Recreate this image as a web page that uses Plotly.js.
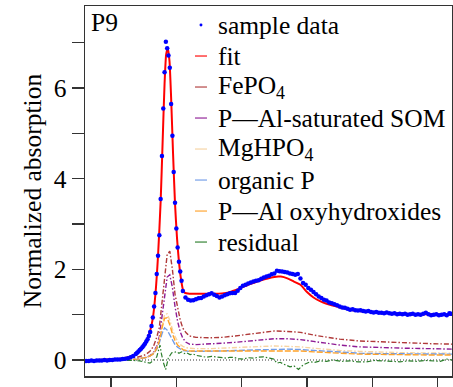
<!DOCTYPE html>
<html>
<head>
<meta charset="utf-8">
<script src="https://cdn.plot.ly/plotly-3.0.1.min.js"></script>
<style>html,body{margin:0;padding:0;background:#fff;}#chart{width:453px;height:387px;}</style>
</head>
<body>
<div id="chart"></div>
<script>
// Sample data (energy in eV, normalized absorption)
const sampleE = [
2141.2,2141.6,2142.0,2142.4,2142.8,2143.2,2143.6,2144.0,2144.4,2144.8,2145.2,2145.6,2146.0,2146.4,2146.8,2147.2,2147.6,2148.0,2148.4,2148.8,
2149.0,2149.2,2149.4,2149.6,2149.8,2150.0,2150.2,2150.4,2150.6,2150.8,2151.0,2151.2,2151.4,2151.6,2151.8,2152.0,2152.2,2152.4,2152.6,2152.8,
2153.0,2153.2,2153.4,2153.6,2153.8,2154.0,2154.2,2154.4,2154.6,2154.8,2155.0,2155.2,2155.4,2155.6,2155.8,2156.0,
2156.4,2156.8,2157.2,2157.6,2158.0,2158.4,2158.8,2159.2,2159.6,2160.0,2160.4,2160.8,2161.2,2161.6,2162.0,2162.4,2162.8,2163.2,2163.6,2164.0,
2164.4,2164.8,2165.2,2165.6,2166.0,2166.4,2166.8,2167.2,2167.6,2168.0,2168.4,2168.8,2169.2,2169.6,2170.0,2170.4,2170.8,2171.2,2171.6,2172.0,
2172.4,2172.8,2173.2,2173.6,2174.0,2174.4,2174.8,2175.2,2175.6,2176.0,2176.4,2176.8,2177.2,2177.6,2178.0,2178.4,2178.8,2179.2,2179.6,2180.0,
2180.4,2180.8,2181.2,2181.6,2182.0,2182.4,2182.8,2183.2,2183.6,2184.0,2184.4,2184.8,2185.2,2185.6,2186.0,2186.4,2186.8,2187.2,2187.6,2188.0,
2188.4,2188.8,2189.2,2189.6,2190.0,2190.4,2190.8,2191.2,2191.6,2192.0,2192.4,2192.8,2193.2,2193.6,2194.0,2194.4,2194.8,2195.2,2195.6,2196.0,
2196.4,2196.8,2197.0];
const sampleY = [
-0.02,-0.02,-0.01,-0.02,-0.01,-0.01,-0.01,0.00,-0.01,0.00,0.00,0.01,0.01,0.01,0.02,0.03,0.04,0.06,0.09,0.13,
0.16,0.19,0.22,0.25,0.28,0.32,0.36,0.41,0.46,0.53,0.62,0.75,0.94,1.18,1.48,1.90,2.30,2.75,3.55,4.50,
5.55,6.35,7.02,6.88,6.72,6.45,5.65,4.95,4.15,3.47,2.90,2.48,2.17,1.95,1.75,1.52,
1.38,1.33,1.31,1.32,1.34,1.36,1.37,1.40,1.43,1.45,1.47,1.44,1.41,1.38,1.40,1.43,1.45,1.47,1.48,1.48,
1.53,1.59,1.64,1.66,1.69,1.71,1.73,1.75,1.76,1.79,1.82,1.84,1.86,1.89,1.91,1.97,1.96,1.95,1.94,1.93,
1.91,1.90,1.88,1.90,1.80,1.70,1.66,1.59,1.55,1.50,1.45,1.40,1.37,1.33,1.31,1.27,1.25,1.23,1.21,1.18,
1.16,1.15,1.13,1.11,1.12,1.10,1.09,1.10,1.08,1.07,1.08,1.06,1.05,1.06,1.04,1.04,1.03,1.05,1.03,1.02,
1.03,1.01,1.02,1.01,1.02,1.00,1.01,1.02,1.00,1.01,1.00,1.02,1.04,1.01,0.99,1.00,1.01,0.99,1.00,1.01,
0.99,1.03,1.02];

// Fit
const fitE = [2141.0,2143,2145,2146,2147,2148,2148.5,2149,2149.5,2150,2150.5,2151,2151.4,2151.8,2152.2,2152.6,2152.9,2153.2,2153.45,2153.7,
2153.95,2154.2,2154.5,2154.8,2155.1,2155.4,2155.7,2156.0,2156.3,2157,2158,2159,2160,2161,2162,2163,2164,2165,2166,2167,
2168,2169,2170,2170.6,2171,2172,2173,2174,2175,2176,2177,2178,2179,2180,2181,2182,2184,2186,2188,2190,2192,2194,2196,2197.2];
const fitY = [0.00,0.00,0.01,0.02,0.04,0.07,0.10,0.15,0.22,0.32,0.45,0.65,0.92,1.45,2.30,3.50,4.80,6.10,6.75,6.88,
6.60,5.80,4.55,3.45,2.70,2.17,1.80,1.56,1.48,1.46,1.46,1.46,1.46,1.46,1.47,1.49,1.54,1.60,1.66,1.71,
1.76,1.80,1.83,1.84,1.84,1.80,1.73,1.66,1.50,1.38,1.30,1.24,1.20,1.16,1.13,1.10,1.07,1.05,1.03,1.02,1.01,1.01,1.00,1.00];

// Component energy grid
const compE = [2141,2146,2148,2149,2150,2150.5,2151,2151.5,2152,2152.4,2152.8,2153.2,2153.6,2154.0,2154.4,2154.8,2155.2,2155.6,2156.0,2156.5,
2157,2158,2160,2162,2164,2166,2168,2170,2172,2174,2176,2178,2180,2183,2186,2190,2194,2197.2];
const fePO4 = [0,0.01,0.03,0.06,0.10,0.14,0.20,0.30,0.50,0.72,1.25,1.90,2.33,2.40,2.00,1.45,1.12,0.88,0.70,0.60,
0.53,0.50,0.49,0.50,0.53,0.57,0.61,0.64,0.63,0.61,0.55,0.50,0.46,0.42,0.40,0.375,0.36,0.35];
const pAlSOM = [0,0.00,0.01,0.02,0.04,0.06,0.10,0.17,0.30,0.52,0.95,1.45,1.83,1.88,1.60,1.18,0.85,0.62,0.48,0.39,
0.35,0.34,0.35,0.37,0.39,0.42,0.45,0.47,0.47,0.45,0.41,0.37,0.33,0.29,0.27,0.26,0.25,0.24];
const mgHPO4 = [0,0.00,0.01,0.02,0.04,0.06,0.09,0.15,0.27,0.45,0.75,1.00,1.02,0.88,0.68,0.52,0.41,0.34,0.30,0.27,
0.26,0.25,0.25,0.26,0.27,0.28,0.30,0.31,0.30,0.29,0.26,0.23,0.21,0.19,0.17,0.16,0.155,0.15];
const organicP = [0,0.00,0.01,0.02,0.04,0.06,0.09,0.14,0.24,0.38,0.58,0.71,0.66,0.55,0.43,0.34,0.28,0.24,0.21,0.20,
0.19,0.19,0.19,0.20,0.21,0.22,0.23,0.24,0.24,0.23,0.21,0.19,0.17,0.15,0.14,0.135,0.13,0.13];
const pAlOxy = [0,0.00,0.01,0.02,0.04,0.06,0.09,0.14,0.25,0.42,0.70,0.92,0.93,0.78,0.58,0.43,0.33,0.27,0.23,0.21,
0.20,0.20,0.20,0.20,0.21,0.21,0.21,0.21,0.21,0.20,0.18,0.16,0.15,0.13,0.12,0.115,0.11,0.11];

// Residual
const residE = [2141,2142.5,2144,2144.85,2146,2147.45,2148.5,2149.4,2149.95,2150.5,2150.97,2151.4,2152.0,2152.35,2152.5,2152.7,2153.0,2153.37,2153.57,2153.77,
2154.3,2154.7,2155.05,2155.4,2155.8,2156.2,2156.6,2157.1,2157.6,2158.1,2158.6,2159.1,2159.65,2160.4,2161.2,2162.0,2162.7,2163.2,2163.7,2164.5,
2165.25,2166.0,2166.8,2167.5,2168.3,2169.3,2169.9,2170.4,2170.9,2171.4,2171.9,2172.4,2173.0,2173.7,2174.4,2174.9,2175.45,2176.2,2177.0,2178.0,
2179.0,2180.2,2181.6,2182.8,2184.1,2185.4,2186.7,2188.0,2189.2,2190.5,2191.8,2193.0,2194.3,2195.4,2196.4,2197.2];
const residY = [0.00,0.00,-0.01,0.00,0.00,0.00,-0.01,-0.02,-0.04,-0.06,-0.07,-0.02,0.07,0.25,0.33,0.15,-0.05,-0.21,-0.10,0.04,
0.16,0.18,0.18,0.15,0.18,0.14,0.16,0.12,0.13,0.10,0.09,0.07,0.06,0.08,0.07,0.05,0.04,0.06,0.06,0.03,
0.02,0.05,0.04,0.06,0.07,0.04,0.02,-0.07,-0.05,-0.09,-0.12,-0.15,-0.13,-0.21,-0.11,-0.07,-0.04,-0.05,-0.02,-0.03,
0.00,-0.03,-0.02,-0.04,-0.04,-0.01,-0.02,-0.04,-0.04,-0.02,-0.03,-0.01,-0.02,-0.03,0.02,0.00];

const seriesNames = ['sample data', 'fit', 'FePO<sub>4</sub>', 'P—Al-saturated SOM', 'MgHPO<sub>4</sub>',
                     'organic P', 'P—Al oxyhydroxides', 'residual'];
const seriesColors = ['#0000FF', '#FF0000', '#B03A3A', '#8E1C95', '#F7D3A1', '#6F9BE8', '#FFA229', '#2A7D2A'];

const F = 'Liberation Serif, Times New Roman, serif';
const FS = 25.5;
const dd = '5px,2px,1.5px,2px';

const traces = [
  {x: compE, y: fePO4, name: seriesNames[2], mode: 'lines', line: {color: seriesColors[2], width: 1.4, dash: dd}},
  {x: compE, y: pAlSOM, name: seriesNames[3], mode: 'lines', line: {color: seriesColors[3], width: 1.4, dash: dd}},
  {x: compE, y: mgHPO4, name: seriesNames[4], mode: 'lines', line: {color: seriesColors[4], width: 1.4, dash: dd}},
  {x: compE, y: organicP, name: seriesNames[5], mode: 'lines', line: {color: seriesColors[5], width: 1.4, dash: '6px,2px'}},
  {x: compE, y: pAlOxy, name: seriesNames[6], mode: 'lines', line: {color: seriesColors[6], width: 1.4, dash: '6px,2px'}},
  {x: residE, y: residY, name: seriesNames[7], mode: 'lines', line: {color: seriesColors[7], width: 1.2, dash: dd}},
  {x: fitE, y: fitY, name: seriesNames[1], mode: 'lines', line: {color: seriesColors[1], width: 2, shape: 'spline', smoothing: 0.6}},
  {x: sampleE, y: sampleY, name: seriesNames[0], mode: 'markers', marker: {color: seriesColors[0], size: 4.5}}
];

// Legend drawn as annotations + short line handles (matplotlib-style compact legend)
const legTop = 0.9486, legStep = 0.0838, legTextX = 0.3597, legH0 = 0.2997, legH1 = 0.3324;
const annotations = [{text: 'P9', xref: 'paper', yref: 'paper', x: 0.012, y: 1.0, xanchor: 'left', yanchor: 'top',
                      showarrow: false, font: {family: F, size: FS, color: '#000'}}];
const shapes = [{type: 'line', xref: 'paper', x0: 0, x1: 1, yref: 'y', y0: 0, y1: 0,
                 line: {color: '#000', width: 0.8, dash: '1px,2px'}, layer: 'below'}];
seriesNames.forEach((nm, i) => {
  const yc = legTop - i * legStep;
  annotations.push({text: nm, xref: 'paper', yref: 'paper', x: legTextX, y: yc, xanchor: 'left', yanchor: 'middle',
                    showarrow: false, font: {family: F, size: FS, color: '#000'}, borderpad: 0});
  if (i === 0) {
    shapes.push({type: 'circle', xref: 'paper', yref: 'paper', x0: (legH0 + legH1) / 2 - 0.004, x1: (legH0 + legH1) / 2 + 0.004,
                 y0: yc - 0.004, y1: yc + 0.004, fillcolor: seriesColors[i], line: {width: 0}});
  } else {
    shapes.push({type: 'line', xref: 'paper', yref: 'paper', x0: legH0, x1: legH1, y0: yc, y1: yc,
                 line: {color: seriesColors[i], width: 1.5}, opacity: 0.75});
  }
});

const layout = {
  width: 453, height: 387,
  margin: {l: 85, r: 1, t: 6, b: 11},
  paper_bgcolor: '#fff', plot_bgcolor: '#fff',
  font: {family: F, size: FS, color: '#000'},
  showlegend: false,
  xaxis: {range: [2141.02, 2197.2], showgrid: false, zeroline: false, showline: true, mirror: true,
          linecolor: '#333', linewidth: 1.5, ticks: 'outside', ticklen: 16, tickwidth: 1.5, tickcolor: '#333',
          tick0: 2145, dtick: 10, showticklabels: false},
  yaxis: {range: [-0.353, 7.81], showgrid: false, zeroline: false, showline: true, mirror: true,
          linecolor: '#333', linewidth: 1.5, ticks: 'outside', ticklen: 12, tickwidth: 1.5, tickcolor: '#333',
          tick0: 0, dtick: 2, tickfont: {family: F, size: FS},
          minor: {dtick: 1, ticks: 'outside', ticklen: 12, tickwidth: 1.5, tickcolor: '#333', showgrid: false},
          title: {text: 'Normalized absorption', font: {family: F, size: FS}, standoff: 4}},
  shapes: shapes,
  annotations: annotations
};

Plotly.newPlot('chart', traces, layout, {displayModeBar: false, staticPlot: true});
</script>
</body>
</html>
